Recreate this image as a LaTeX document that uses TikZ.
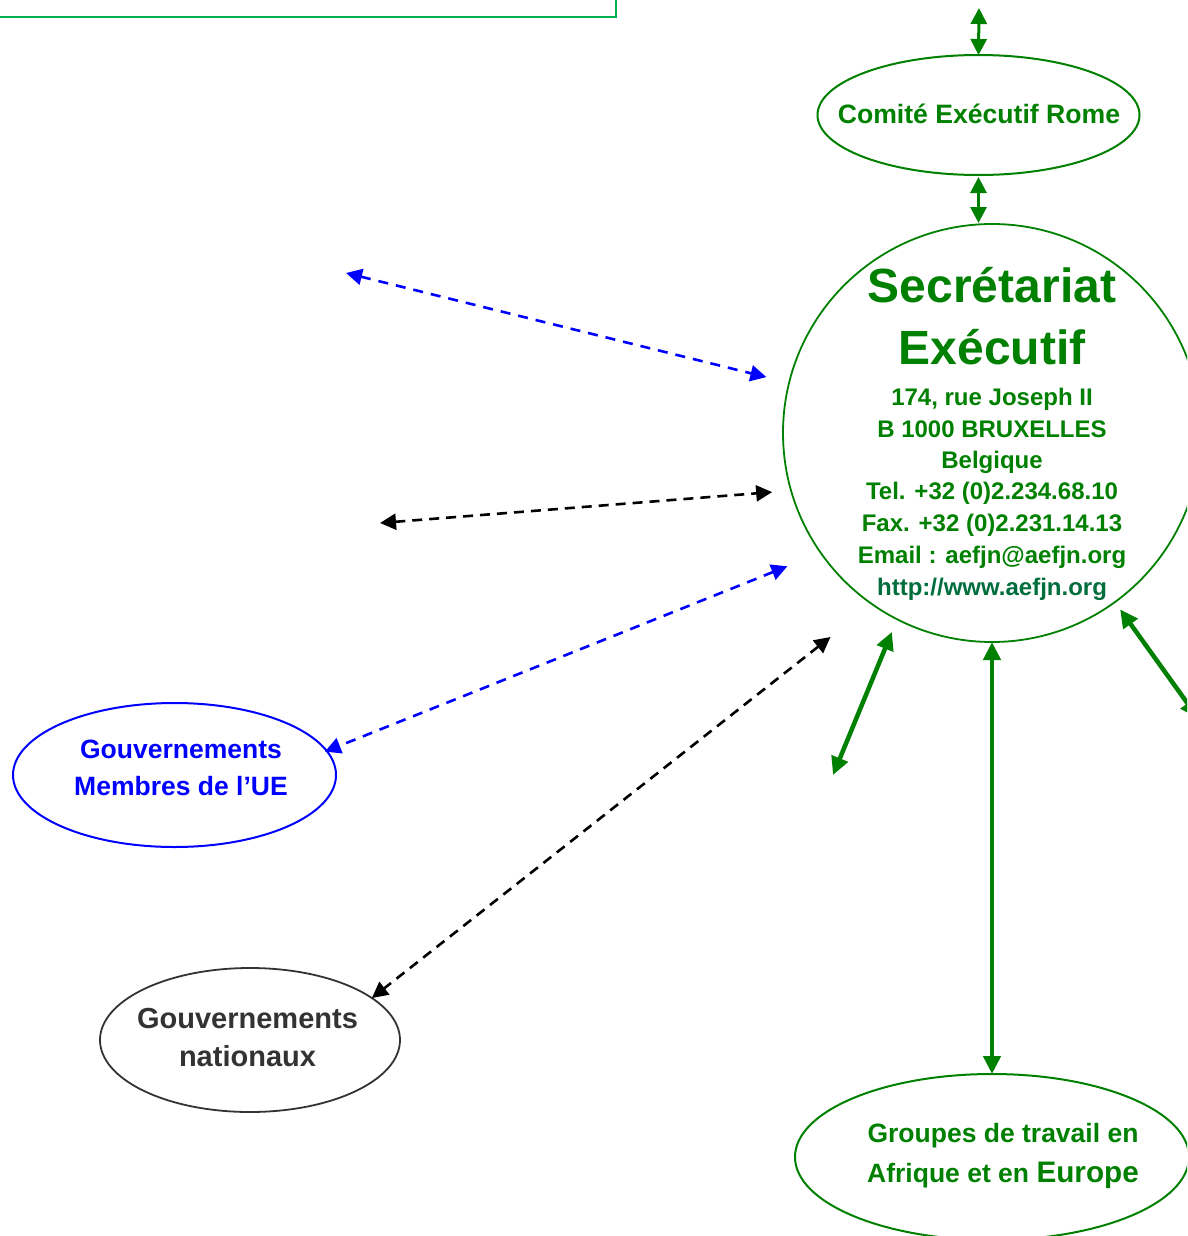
\documentclass[tikz,border=0pt]{standalone}
\usepackage{fontspec}
\setmainfont{Liberation Sans}
\usetikzlibrary{shapes.geometric,arrows.meta}
\definecolor{dg}{RGB}{0,128,0}
\definecolor{lg}{RGB}{0,176,80}
\definecolor{lnk}{RGB}{0,110,60}
\definecolor{gris}{RGB}{51,51,51}
\newcommand\fsz[1]{\fontsize{#1pt}{#1pt}\selectfont\bfseries}
\tikzset{
  ell/.style={ellipse, inner sep=0pt, outer sep=0pt},
  txt/.style={anchor=base, inner sep=0pt, outer sep=0pt},
  dbl/.style={{Triangle[length=16pt,width=16pt]}-{Triangle[length=16pt,width=16pt]}},
  dblthick/.style={{Triangle[length=18pt,width=17pt]}-{Triangle[length=18pt,width=17pt]}},
  thin green/.style={dg, line width=3pt, dbl},
  thick green/.style={dg, line width=4.5pt, dblthick},
  blue dash/.style={blue, line width=2.6pt, dash pattern=on 10pt off 8pt, dbl},
  black dash/.style={black, line width=2.6pt, dash pattern=on 10pt off 7pt, dbl},
}
\begin{document}
\begin{tikzpicture}[x=1pt,y=-1pt]
\useasboundingbox (0,0) rectangle (1187,1236);
\clip (0,0) rectangle (1187,1236);

% partial box at top left
\node[draw=lg, line width=1.6pt, minimum width=660pt, minimum height=60pt,
      inner sep=0pt, outer sep=0pt, anchor=south east] (box) at (616,17) {};

% Comité Exécutif Rome
\node[ell, draw=dg, line width=2pt, minimum width=322pt, minimum height=120pt] (rome) at (978.5,115) {};
\node[txt, text=dg, font=\fsz{26.6}] (romeT) at (979,124) {Comité Exécutif Rome};

% Secrétariat Exécutif
\node[circle, draw=dg, line width=1.8pt, minimum size=418pt, inner sep=0pt, outer sep=0pt] (sec) at (992,433) {};
\node[txt, text=dg, font=\fsz{48}] (s1) at (992,302) {Secrétariat};
\node[txt, text=dg, font=\fsz{48}] (s2) at (992,364) {Exécutif};
\node[txt, text=dg, font=\fsz{24}] (s3) at (992,405) {174, rue Joseph II};
\node[txt, text=dg, font=\fsz{24}] (s4) at (992,437) {B 1000 BRUXELLES};
\node[txt, text=dg, font=\fsz{24}] (s5) at (992,468) {Belgique};
\node[txt, text=dg, font=\fsz{24}] (s6) at (992,499) {Tel. +32 (0)2.234.68.10};
\node[txt, text=dg, font=\fsz{24}] (s7) at (992,531) {Fax. +32 (0)2.231.14.13};
\node[txt, text=dg, font=\fsz{24}] (s8) at (992,563) {Email : aefjn@aefjn.org};
\node[txt, text=lnk, font=\fsz{24}] (s9) at (992,595) {http://www.aefjn.org};

% Gouvernements Membres de l'UE
\node[ell, draw=blue, line width=2pt, minimum width=323pt, minimum height=144pt] (ue) at (174.5,775) {};
\node[txt, text=blue, font=\fsz{26.5}] (ue1) at (181,758) {Gouvernements};
\node[txt, text=blue, font=\fsz{26.5}] (ue2) at (181,795) {Membres de l’UE};

% Gouvernements nationaux
\node[ell, draw=gris, line width=1.8pt, minimum width=300pt, minimum height=144pt] (nat) at (250,1040) {};
\node[txt, text=gris, font=\fsz{29}] (nat1) at (247.5,1028) {Gouvernements};
\node[txt, text=gris, font=\fsz{29}] (nat2) at (247.5,1066) {nationaux};

% Groupes de travail
\node[ell, draw=dg, line width=2pt, minimum width=394pt, minimum height=166pt] (grp) at (992,1157) {};
\node[txt, text=dg, font=\fsz{26.5}] (grp1) at (1003,1142) {Groupes de travail en};
\node[txt, text=dg, font=\fsz{26.5}] (grp2) at (1003,1182) {Afrique et en {\fsz{29.7}Europe}};

% free ends
\coordinate (topEnd) at (979,8);
\coordinate (bd1) at (346,273);
\coordinate (kd1) at (380,523);
\coordinate (gt1) at (833,775);
\coordinate (gt2) at (1198,718);

% connectors
\draw[thin green] (topEnd) -- (rome.north);
\draw[thin green, shorten <=2pt, shorten >=1pt] (rome.south) -- (rome.south |- sec.north);
\draw[blue dash, shorten >=23.4pt] (bd1) -- (sec);
\draw[black dash, shorten >=19pt] (kd1) -- (sec.196.9);
\draw[blue dash, shorten <=36pt, shorten >=-2pt] (sec.215.3) -- (ue.9.6);
\draw[black dash, shorten <=53pt] (sec.235.6) -- (nat.19.8);
\draw[thick green, shorten <=13.7pt] (sec.243) -- (gt1);
\draw[thick green] (sec.south) -- (grp.north);
\draw[thick green, shorten <=9pt] (sec.306.6) -- (gt2);
\end{tikzpicture}
\end{document}
